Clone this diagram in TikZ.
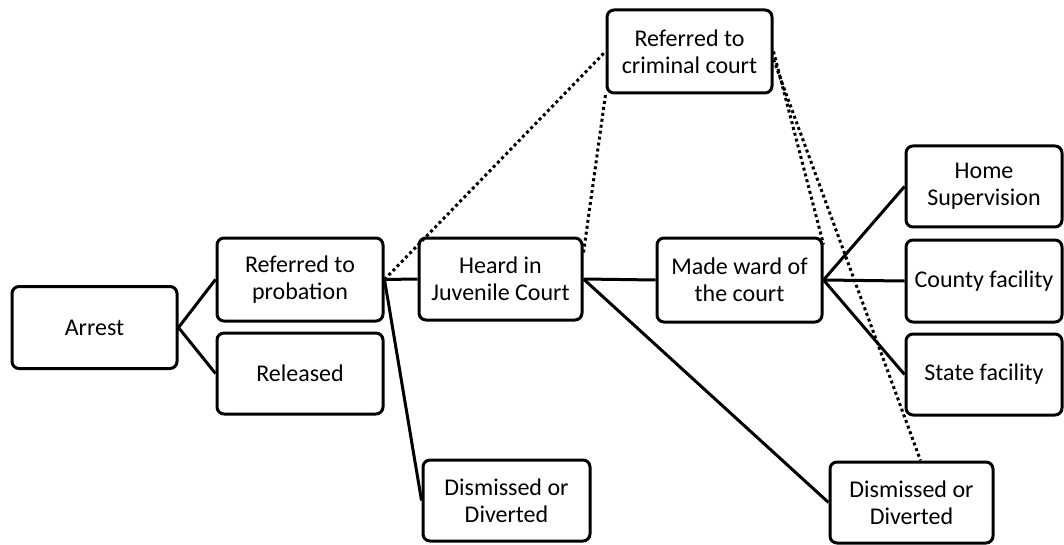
\documentclass[tikz,border=0pt]{standalone}
\usepackage{fontspec}
\setmainfont{Carlito}
\usetikzlibrary{calc}
\begin{document}
\begin{tikzpicture}[x=1pt,y=-1pt,
  box/.style={draw, line width=3pt, rounded corners=7pt, align=center, inner sep=0pt,
    font=\fontsize{24}{27}\selectfont},
  link/.style={line width=3pt},
  dots/.style={line width=3pt, dash pattern=on 3pt off 3pt}]
\useasboundingbox (0,0) rectangle (1064,545);
\node[box, minimum width=165pt, minimum height=82pt] (arrest) at (94.5,327.5) {Arrest};
\node[box, minimum width=166pt, minimum height=83pt] (prob) at (300,279.5) {Referred to\\probation};
\node[box, minimum width=166pt, minimum height=81pt] (rel) at (300,373.5) {Released};
\node[box, minimum width=167pt, minimum height=81pt] (ldis) at (506.5,500.5) {Dismissed or\\Diverted};
\node[box, minimum width=163pt, minimum height=82pt] (heard) at (500.5,279) {Heard in\\Juvenile Court};
\node[box, minimum width=165pt, minimum height=84pt] (ward) at (739.5,280) {Made ward of\\the court};
\node[box, minimum width=165pt, minimum height=83pt] (crim) at (689.5,51.5) {Referred to\\criminal court};
\node[box, minimum width=156pt, minimum height=81pt] (home) at (984,186.5) {Home\\Supervision};
\node[box, minimum width=156pt, minimum height=82pt] (county) at (984,281) {County facility};
\node[box, minimum width=156pt, minimum height=81pt] (state) at (984,374.5) {State facility};
\node[box, minimum width=163pt, minimum height=81pt] (rdis) at (911.5,502.5) {Dismissed or\\Diverted};

\draw[link] (arrest.east) -- (prob.west);
\draw[link] (arrest.east) -- (rel.west);
\draw[link] (prob.east) -- (heard.west);
\draw[link] (prob.east) -- (ldis.west);
\draw[link] (heard.east) -- (ward.west);
\draw[link] (heard.east) -- (rdis.west);
\draw[link] (ward.east) -- (home.west);
\draw[link] (ward.east) -- (county.west);
\draw[link] (ward.east) -- (state.west);

\draw[dots] (prob.east) -- (crim.west);
\draw[dots] ($(heard.north east)+(0,16)$) -- (crim.south west);
\draw[dots] (crim.east) -- ($(ward.north east)+(0,8)$);
\draw[dots] ($(crim.east)+(0,8)$) -- ($(rdis.north)+(9,0)$);
\end{tikzpicture}
\end{document}
